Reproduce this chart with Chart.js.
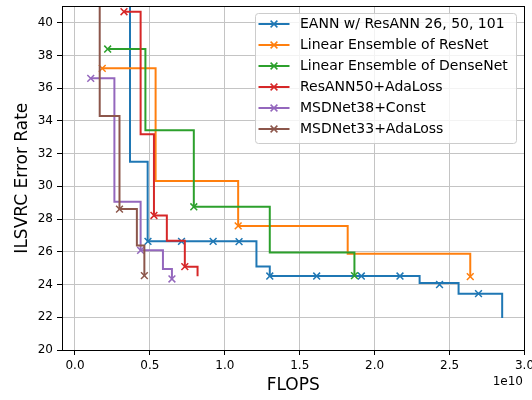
<!DOCTYPE html>
<html>
<head>
<meta charset="utf-8">
<script src="https://cdn.jsdelivr.net/npm/chart.js@4.4.0/dist/chart.umd.min.js"></script>
<style>
html,body{margin:0;padding:0;background:#fff;}
canvas{display:block;}
</style>
</head>
<body>
<canvas id="c" width="532" height="400"></canvas>
<script>
// ---------------- DATA (FLOPS in units of 1e10, ILSVRC error rate in %) ----------------
const seriesNames = [
  'EANN w/ ResANN 26, 50, 101',
  'Linear Ensemble of ResNet',
  'Linear Ensemble of DenseNet',
  'ResANN50+AdaLoss',
  'MSDNet38+Const',
  'MSDNet33+AdaLoss'
];

// step-curve vertices
const eannStepX   = [0.367, 0.367, 0.485, 1.211, 1.300, 2.300, 2.560, 2.851];
const eannStepY   = [44.0, 31.50, 26.64, 25.10, 24.52, 24.09, 23.44, 21.96];
const resEnsStepX = [0.182, 0.538, 1.089, 1.820, 2.638];
const resEnsStepY = [37.21, 30.33, 27.58, 25.88, 24.48];
const denEnsStepX = [0.218, 0.470, 0.793, 1.300, 1.865];
const denEnsStepY = [38.39, 33.42, 28.75, 25.95, 24.54];
const resAdaStepX = [0.327, 0.438, 0.527, 0.613, 0.733, 0.818];
const resAdaStepY = [40.67, 33.18, 28.22, 26.67, 25.09, 24.50];
const msd38StepX  = [0.105, 0.263, 0.438, 0.587, 0.647];
const msd38StepY  = [36.60, 29.06, 26.09, 24.95, 24.34];
const msd33StepX  = [0.165, 0.165, 0.297, 0.413, 0.463];
const msd33StepY  = [44.0, 34.29, 28.61, 26.39, 24.54];

// marked points
const eannMarkX   = [0.487, 0.711, 0.922, 1.095, 1.300, 1.613, 1.911, 2.169, 2.433, 2.693];
const eannMarkY   = [26.64, 26.64, 26.64, 26.62, 24.52, 24.52, 24.52, 24.52, 24.00, 23.44];
const resEnsMarkX = [0.182, 1.089, 2.638];
const resEnsMarkY = [37.21, 27.58, 24.48];
const denEnsMarkX = [0.218, 0.793, 1.865];
const denEnsMarkY = [38.39, 28.75, 24.54];
const resAdaMarkX = [0.327, 0.527, 0.733];
const resAdaMarkY = [40.67, 28.22, 25.09];
const msd38MarkX  = [0.105, 0.438, 0.647];
const msd38MarkY  = [36.60, 26.09, 24.34];
const msd33MarkX  = [0.297, 0.463];
const msd33MarkY  = [28.61, 24.54];

const xTicks = [0.0, 0.5, 1.0, 1.5, 2.0, 2.5, 3.0];
const yTicks = [20, 22, 24, 26, 28, 30, 32, 34, 36, 38, 40];
const xOffsetText = '1e10';
const xTitle = 'FLOPS';
const yTitle = 'ILSVRC Error Rate';

// ---------------- STYLE ----------------
const FONT = 'DejaVu Sans';
const colors = ['#1f77b4', '#ff7f0e', '#2ca02c', '#d62728', '#9467bd', '#8c564b'];

const steps = [
  [eannStepX, eannStepY], [resEnsStepX, resEnsStepY], [denEnsStepX, denEnsStepY],
  [resAdaStepX, resAdaStepY], [msd38StepX, msd38StepY], [msd33StepX, msd33StepY]
];
const marks = [
  [eannMarkX, eannMarkY], [resEnsMarkX, resEnsMarkY], [denEnsMarkX, denEnsMarkY],
  [resAdaMarkX, resAdaMarkY], [msd38MarkX, msd38MarkY], [msd33MarkX, msd33MarkY]
];
const toPts = (xs, ys) => xs.map((x, i) => ({x: x, y: ys[i]}));

const datasets = [];
seriesNames.forEach((name, i) => {
  datasets.push({
    label: name,
    data: toPts(steps[i][0], steps[i][1]),
    showLine: true,
    stepped: true,
    borderColor: colors[i],
    backgroundColor: colors[i],
    borderWidth: 2,
    pointRadius: 0,
    pointHoverRadius: 0,
    fill: false,
    tension: 0,
    order: 20 - 2 * i,
    clip: 0
  });
  datasets.push({
    label: name + ' (points)',
    data: toPts(marks[i][0], marks[i][1]),
    showLine: false,
    pointStyle: 'crossRot',
    pointRadius: 4.8,
    pointHoverRadius: 4.8,
    pointBorderWidth: 1.5,
    pointBorderColor: colors[i],
    pointBackgroundColor: colors[i],
    order: 19 - 2 * i,
    clip: 0
  });
});

const bgPlugin = {
  id: 'bg',
  beforeDraw(chart) {
    const ctx = chart.ctx;
    ctx.save();
    ctx.fillStyle = '#ffffff';
    ctx.fillRect(0, 0, chart.width, chart.height);
    ctx.restore();
  }
};

const framePlugin = {
  id: 'frame',
  afterDatasetsDraw(chart) {
    const a = chart.chartArea, ctx = chart.ctx;
    const l = Math.floor(a.left) + 0.5, r = Math.floor(a.right) + 0.5;
    const t = Math.floor(a.top) + 0.5, b = Math.floor(a.bottom) + 0.5;
    ctx.save();
    ctx.strokeStyle = '#000';
    ctx.lineWidth = 1;
    ctx.strokeRect(l, t, r - l, b - t);
    ctx.restore();
  }
};

const legendPlugin = {
  id: 'mplLegend',
  afterDraw(chart) {
    const ctx = chart.ctx;
    ctx.save();
    const x0 = 255.5, y0 = 13.5, w = 261, h = 130, rad = 3;
    ctx.beginPath();
    ctx.moveTo(x0 + rad, y0);
    ctx.lineTo(x0 + w - rad, y0);
    ctx.arcTo(x0 + w, y0, x0 + w, y0 + rad, rad);
    ctx.lineTo(x0 + w, y0 + h - rad);
    ctx.arcTo(x0 + w, y0 + h, x0 + w - rad, y0 + h, rad);
    ctx.lineTo(x0 + rad, y0 + h);
    ctx.arcTo(x0, y0 + h, x0, y0 + h - rad, rad);
    ctx.lineTo(x0, y0 + rad);
    ctx.arcTo(x0, y0, x0 + rad, y0, rad);
    ctx.closePath();
    ctx.fillStyle = 'rgba(255,255,255,0.8)';
    ctx.fill();
    ctx.strokeStyle = '#cccccc';
    ctx.lineWidth = 1;
    ctx.stroke();

    ctx.font = '14px "' + FONT + '"';
    ctx.textBaseline = 'middle';
    ctx.textAlign = 'left';
    seriesNames.forEach((name, i) => {
      const y = 24 + 21 * i;
      ctx.strokeStyle = colors[i];
      ctx.lineWidth = 2;
      ctx.beginPath();
      ctx.moveTo(258.5, y);
      ctx.lineTo(289.5, y);
      ctx.stroke();
      const cx = 274, d = 3.4;
      ctx.lineWidth = 1.5;
      ctx.beginPath();
      ctx.moveTo(cx - d, y - d); ctx.lineTo(cx + d, y + d);
      ctx.moveTo(cx - d, y + d); ctx.lineTo(cx + d, y - d);
      ctx.stroke();
      ctx.fillStyle = '#000';
      ctx.fillText(name, 300, y + 0.5);
    });

    // axis offset text
    ctx.font = '12px "' + FONT + '"';
    ctx.textAlign = 'right';
    ctx.fillStyle = '#000';
    ctx.fillText(xOffsetText, 523, 382);
    ctx.restore();
  }
};

new Chart(document.getElementById('c'), {
  type: 'scatter',
  data: {datasets: datasets},
  options: {
    responsive: false,
    animation: false,
    devicePixelRatio: 1,
    layout: {padding: {top: 5, right: 7.5, left: 0, bottom: 0}},
    plugins: {
      legend: {display: false},
      tooltip: {enabled: false}
    },
    scales: {
      x: {
        type: 'linear',
        min: -0.0867,
        max: 3.0,
        afterBuildTicks: s => { s.ticks = xTicks.map(v => ({value: v})); },
        afterFit: s => { s.height = 50; s.paddingLeft = 0; s.paddingRight = 0; },
        ticks: {
          callback: v => Number(v).toFixed(1),
          font: {family: FONT, size: 12},
          color: '#000',
          padding: 4,
          maxRotation: 0,
          autoSkip: false
        },
        grid: {color: '#c4c4c4', lineWidth: 1, tickLength: 5, tickColor: '#000', tickWidth: 1},
        border: {display: false},
        title: {display: true, text: xTitle, font: {family: FONT, size: 17}, color: '#000', padding: {top: 0, bottom: 4}}
      },
      y: {
        type: 'linear',
        min: 20,
        max: 41,
        afterBuildTicks: s => { s.ticks = yTicks.map(v => ({value: v})); },
        afterFit: s => { s.width = 62; s.paddingTop = 0; s.paddingBottom = 0; },
        ticks: {
          callback: v => String(v),
          font: {family: FONT, size: 12},
          color: '#000',
          padding: 4,
          autoSkip: false
        },
        grid: {color: '#c4c4c4', lineWidth: 1, tickLength: 5, tickColor: '#000', tickWidth: 1},
        border: {display: false},
        title: {display: true, text: yTitle, font: {family: FONT, size: 17}, color: '#000', padding: {top: 12, bottom: 0}}
      }
    }
  },
  plugins: [bgPlugin, framePlugin, legendPlugin]
});
</script>
</body>
</html>
